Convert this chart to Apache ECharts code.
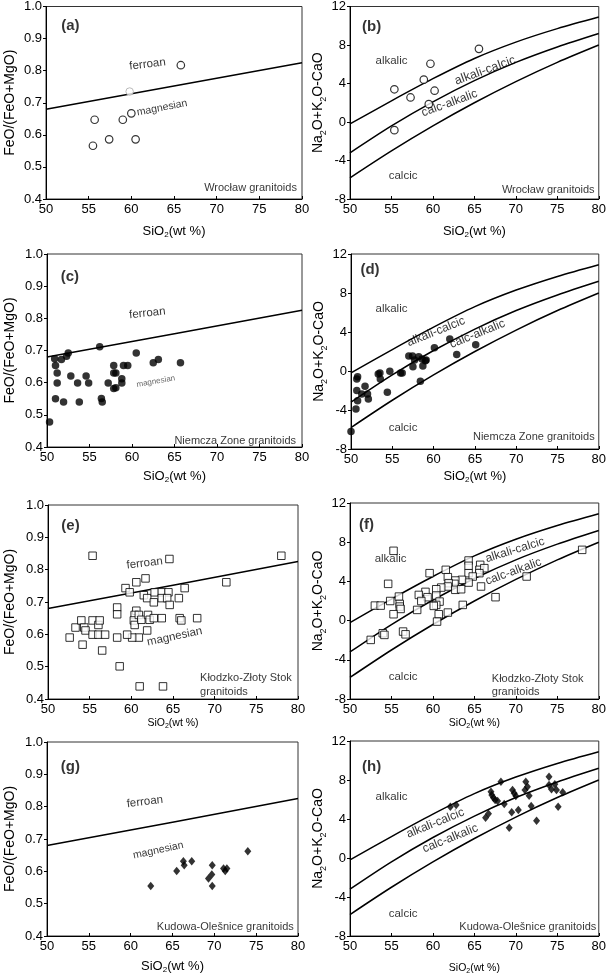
<!DOCTYPE html>
<html><head><meta charset="utf-8">
<script src="https://cdn.jsdelivr.net/npm/echarts@6/dist/echarts.min.js"></script>
<style>html,body{margin:0;padding:0;background:#fff}#c{width:609px;height:977px}</style>
</head><body><div id="c"></div>
<script>
const FONT = '"Liberation Sans", Arial, Helvetica, sans-serif';

// ---- boundary lines ----
const feBoundarySiO2 = [50, 65, 80];
const feBoundaryRatio = [0.68, 0.752, 0.825];
const maliSiO2 = [50, 55, 60, 65, 70, 75, 80];
const maliAlkalicBoundary = [-0.2, 2.2, 4.5, 6.6, 8.3, 9.7, 10.9];
const maliAlkaliCalcicBoundary = [-3.2, -0.4, 2.1, 4.3, 6.2, 7.8, 9.2];
const maliCalcAlkalicBoundary = [-5.8, -3.0, -0.4, 2.0, 4.2, 6.2, 8.0];

// ---- tick values ----
const siO2Ticks = [50, 55, 60, 65, 70, 75, 80];
const feTicks = [0.4, 0.5, 0.6, 0.7, 0.8, 0.9, 1.0];
const maliTicks = [-8, -4, 0, 4, 8, 12];

// ---- Wrocław granitoids ----
const wroclawFe = [[65.8,0.817],[60.0,0.667],[59.0,0.647],[55.7,0.647],[57.4,0.586],[60.5,0.586],[55.5,0.566]];
const wroclawFeGrey = [[59.8,0.735]];
const wroclawMali = [[65.55,7.6],[59.7,6.05],[58.9,4.4],[55.35,3.4],[57.3,2.55],[60.2,3.25],[59.5,1.85],[55.35,-0.85]];

// ---- Niemcza Zone granitoids ----
const niemczaFe = [[50.3,0.478],[50.9,0.674],[51.0,0.653],[51.2,0.630],[51.2,0.599],[51.0,0.550],[51.7,0.672],[51.95,0.540],[52.3,0.682],[52.5,0.692],[52.8,0.621],[53.6,0.599],[53.8,0.540],[54.6,0.621],[54.9,0.599],[56.2,0.712],[56.4,0.551],[56.5,0.540],[57.2,0.599],[57.85,0.653],[57.85,0.630],[58.1,0.630],[57.85,0.582],[58.1,0.584],[58.8,0.612],[58.8,0.599],[59.0,0.653],[59.5,0.653],[60.5,0.692],[62.5,0.662],[63.1,0.672],[65.7,0.662]];
const niemczaMali = [[50.0,-6.2],[50.6,-3.9],[50.7,-2.0],[50.7,-0.82],[50.8,-0.58],[50.8,-3.04],[51.3,-2.36],[51.7,-1.57],[52.0,-2.36],[52.1,-2.87],[53.55,-0.82],[53.3,-0.31],[53.5,-0.2],[54.4,-2.19],[54.7,-0.03],[56.0,-0.2],[56.2,-0.2],[57.0,1.54],[57.45,1.54],[57.5,0.44],[57.7,1.13],[58.2,1.47],[58.4,-1.06],[58.6,1.23],[59.0,1.06],[58.7,0.51],[59.1,1.13],[60.1,2.39],[61.96,3.28],[62.8,1.68],[65.1,2.7]];

// ---- Kłodzko-Złoty Stok granitoids ----
const klodzkoFe = [[55.35,0.843],[64.57,0.833],[78.0,0.843],[60.6,0.761],[61.7,0.773],[59.3,0.743],[59.8,0.730],[61.5,0.721],[61.9,0.712],[62.8,0.730],[63.65,0.730],[64.45,0.730],[63.65,0.712],[64.3,0.712],[65.7,0.712],[66.4,0.743],[62.7,0.699],[64.6,0.691],[71.4,0.761],[58.3,0.683],[58.3,0.662],[60.6,0.673],[60.4,0.660],[60.3,0.643],[60.4,0.629],[60.9,0.660],[61.2,0.645],[62.0,0.660],[62.2,0.645],[62.7,0.650],[63.65,0.650],[65.8,0.650],[66.0,0.643],[67.9,0.650],[61.9,0.612],[60.9,0.590],[60.1,0.590],[59.5,0.599],[58.3,0.590],[58.6,0.501],[61.0,0.439],[63.8,0.439],[52.6,0.590],[53.3,0.621],[54.0,0.643],[54.35,0.621],[54.5,0.612],[54.15,0.568],[55.35,0.643],[55.35,0.599],[56.05,0.629],[56.2,0.643],[56.05,0.599],[56.85,0.599],[56.5,0.550]];
const klodzkoMali = [[55.25,7.12],[54.6,3.75],[78.0,7.22],[71.3,4.5],[67.55,2.39],[59.6,4.84],[61.55,5.18],[64.3,6.13],[64.3,5.59],[65.7,5.69],[65.6,5.18],[66.2,5.35],[64.3,4.84],[65.6,4.84],[64.8,4.5],[65.8,3.48],[64.3,3.88],[63.5,4.16],[62.7,4.09],[62.6,3.75],[61.8,4.43],[61.9,3.82],[61.8,3.48],[62.7,3.14],[63.4,3.2],[61.0,3.37],[60.4,3.2],[59.1,2.93],[58.3,2.62],[59.35,2.39],[58.6,2.0],[60.4,2.56],[60.8,1.94],[60.4,1.6],[60.1,1.5],[58.1,1.09],[60.7,0.65],[61.8,0.82],[63.6,1.6],[60.5,-0.1],[53.0,1.53],[53.7,1.53],[54.85,2.0],[55.9,2.45],[56.0,1.7],[56.0,1.43],[56.1,1.19],[55.25,0.65],[52.5,-1.97],[53.95,-1.29],[54.15,-1.46],[56.4,-1.12],[56.7,-1.4]];

// ---- Kudowa-Olešnice granitoids ----
const kudowaFe = [[62.4,0.555],[65.5,0.601],[66.3,0.631],[66.4,0.619],[67.3,0.631],[69.75,0.619],[69.3,0.578],[69.7,0.590],[69.75,0.555],[71.1,0.609],[71.3,0.601],[71.5,0.609],[74.0,0.662]];
const kudowaMali = [[62.1,5.26],[62.8,5.44],[66.35,4.14],[66.7,4.55],[67.0,6.8],[67.1,6.46],[67.3,6.19],[67.5,5.95],[67.8,5.85],[68.2,7.83],[68.6,5.54],[69.2,3.11],[69.6,6.97],[69.8,6.63],[70.0,6.36],[69.5,4.68],[70.3,4.92],[71.2,7.83],[71.1,6.97],[71.4,7.32],[71.6,6.39],[71.85,5.33],[72.5,3.83],[74.0,8.34],[74.0,7.49],[74.3,7.04],[74.7,7.56],[74.9,6.97],[75.1,5.26],[75.65,6.74]];

// ---- panel layout & styles ----
const panels = [
  {type:'fe',   box:[45,5,257,194],   pts:wroclawFe,   marker:'open-circle', xGap:24, xFont:13, yGap:27},
  {type:'mali', box:[350,3,254,196],  pts:wroclawMali, marker:'open-circle', xGap:24, xFont:13, yGap:22},
  {type:'fe',   box:[46,254,256,193], pts:niemczaFe,   marker:'filled-circle', xGap:21, xFont:13, yGap:28},
  {type:'mali', box:[351,254,253,195],pts:niemczaMali, marker:'filled-circle', xGap:19, xFont:13, yGap:22},
  {type:'fe',   box:[46,505,252,194], pts:klodzkoFe,   marker:'open-square', xGap:13, xFont:10.5, yGap:29},
  {type:'mali', box:[350,503,253,196],pts:klodzkoMali, marker:'open-square', xGap:13, xFont:10.5, yGap:22},
  {type:'fe',   box:[46,742,252,194], pts:kudowaFe,    marker:'diamond', xGap:22, xFont:13, yGap:28},
  {type:'mali', box:[350,741,253,195],pts:kudowaMali,  marker:'diamond', xGap:26, xFont:10.5, yGap:22}
];

// text placements in data coordinates: [x, y, text, rotate, fontSize, align, bold, color]
const panelText = [
  [[52.85,0.94,'(a)',0,15,'center',true],[61.9,0.82,'ferroan',7,11.5],[63.6,0.684,'magnesian',11,10.5],[79.4,0.434,'Wrocław granitoids',0,11,'right']],
  [[52.6,9.9,'(b)',0,15,'center',true],[55,6.4,'alkalic',0,11.5],[66.3,5.35,'alkali-calcic',20,12.5],[62.0,1.95,'calc-alkalic',20,12],[56.4,-5.6,'calcic',0,11.5],[79.5,-7.05,'Wrocław granitoids',0,11,'right']],
  [[52.7,0.93,'(c)',0,15,'center',true],[61.8,0.816,'ferroan',6,11.5],[62.8,0.604,'magnesian',10,8,'center',false,'#444'],[79.3,0.418,'Niemcza Zone granitoids',0,11,'right']],
  [[52.3,10.4,'(d)',0,15,'center',true],[54.9,6.36,'alkalic',0,11.5],[60.3,4.03,'alkali-calcic',22,12],[65.3,3.8,'calc-alkalic',22,12],[56.3,-5.78,'calcic',0,11.5],[79.5,-6.8,'Niemcza Zone granitoids',0,11,'right']],
  [[52.7,0.935,'(e)',0,15,'center',true],[61.6,0.82,'ferroan',7,11.5],[65.2,0.593,'magnesian',12,11.5],[68.25,0.465,'Kłodzko-Złoty Stok',0,11,'left'],[68.25,0.422,'granitoids',0,11,'left']],
  [[52.0,9.78,'(f)',0,15,'center',true],[54.9,6.27,'alkalic',0,11.5],[69.9,7.2,'alkali-calcic',17,12],[69.7,5.0,'calc-alkalic',20,12],[56.4,-5.72,'calcic',0,11.5],[67.1,-5.96,'Kłodzko-Złoty Stok',0,11,'left'],[67.1,-7.26,'granitoids',0,11,'left']],
  [[52.8,0.923,'(g)',0,15,'center',true],[61.7,0.815,'ferroan',7,11.5],[63.3,0.665,'magnesian',12,10.5],[79.5,0.429,'Kudowa-Olešnice granitoids',0,11,'right']],
  [[52.6,9.37,'(h)',0,15,'center',true],[55.0,6.3,'alkalic',0,11.5],[60.3,3.56,'alkali-calcic',22,12],[62.1,2.0,'calc-alkalic',22,12],[56.4,-5.74,'calcic',0,11.5],[79.7,-7.04,'Kudowa-Olešnice granitoids',0,11,'right']]
];

const markerStyles = {
  'open-circle':  {symbol:'circle',  size:7.5, itemStyle:{color:'#fff', borderColor:'#000', borderWidth:1.2}},
  'filled-circle':{symbol:'circle',  size:7.5, itemStyle:{color:'#000', borderColor:'#000', borderWidth:0}},
  'open-square':  {symbol:'rect',    size:7.5, itemStyle:{color:'#fff', borderColor:'#000', borderWidth:1}},
  'diamond':      {symbol:'diamond', size:[7,8.5], itemStyle:{color:'#000', borderColor:'#000', borderWidth:0}}
};

const grids = [], xAxes = [], yAxes = [], series = [];
const subRich = (fs) => ({sub:{fontSize:Math.round(fs*0.62), lineHeight:Math.round(fs*0.8), verticalAlign:'bottom', fontFamily:FONT, color:'#000'}});

panels.forEach((p, i) => {
  const [l, t, w, h] = p.box;
  grids.push({left:l, top:t, width:w, height:h, show:true, borderColor:'#333', borderWidth:1, backgroundColor:'transparent'});
  xAxes.push({
    type:'value', gridIndex:i, min:siO2Ticks[0], max:siO2Ticks[siO2Ticks.length-1], interval:siO2Ticks[1]-siO2Ticks[0],
    axisLine:{onZero:false, lineStyle:{color:'#000', width:1}},
    axisTick:{inside:true, length:3, lineStyle:{color:'#000'}},
    axisLabel:{color:'#000', fontSize:13, margin:4, fontFamily:FONT},
    splitLine:{show:false},
    name:'SiO{sub|2}(wt %)', nameLocation:'middle', nameGap:p.xGap,
    nameTextStyle:{color:'#000', fontSize:p.xFont, fontFamily:FONT, lineHeight:Math.round(p.xFont*1.25), rich:subRich(p.xFont)}
  });
  const fe = p.type === 'fe';
  const ticks = fe ? feTicks : maliTicks;
  yAxes.push({
    type:'value', gridIndex:i, min:ticks[0], max:ticks[ticks.length-1], interval: fe ? 0.1 : 4,
    axisLine:{onZero:false, lineStyle:{color:'#000', width:1}},
    axisTick:{inside:false, length:3, lineStyle:{color:'#000'}},
    axisLabel:{color:'#000', fontSize:13, margin:4, fontFamily:FONT, formatter: v => fe ? v.toFixed(1) : String(Math.round(v))},
    splitLine:{show:false},
    name: fe ? 'FeO/(FeO+MgO)' : 'Na{sub|2}O+K{sub|2}O-CaO', nameLocation:'middle', nameGap:p.yGap,
    nameTextStyle:{color:'#000', fontSize:14, fontFamily:FONT, lineHeight:18, rich:subRich(14)}
  });
  const lineStyle = {color:'#000', width:1.5};
  if (fe) {
    series.push({type:'line', xAxisIndex:i, yAxisIndex:i, symbol:'none', silent:true, lineStyle,
      data: feBoundarySiO2.map((x, k) => [x, feBoundaryRatio[k]])});
  } else {
    [maliAlkalicBoundary, maliAlkaliCalcicBoundary, maliCalcAlkalicBoundary].forEach(arr => {
      series.push({type:'line', xAxisIndex:i, yAxisIndex:i, symbol:'none', silent:true, smooth:0.3, lineStyle,
        data: maliSiO2.map((x, k) => [x, arr[k]])});
    });
  }
  const m = markerStyles[p.marker];
  series.push({type:'scatter', xAxisIndex:i, yAxisIndex:i, symbol:m.symbol, symbolSize:m.size, itemStyle:m.itemStyle, data:p.pts, z:3});
  if (i === 0) {
    series.push({type:'scatter', xAxisIndex:i, yAxisIndex:i, symbol:'circle', symbolSize:7.5,
      itemStyle:{color:'#fff', borderColor:'#aaa', borderWidth:1}, data:wroclawFeGrey, z:3});
  }
  series.push({type:'scatter', xAxisIndex:i, yAxisIndex:i, symbol:'circle', symbolSize:0, silent:true, z:5,
    itemStyle:{color:'transparent'},
    data: panelText[i].map(a => ({value:[a[0], a[1]], label:{
      show:true, position:'inside', formatter:a[2], rotate:a[3]||0, fontSize:a[4]||12,
      align:a[5]||'center', verticalAlign:'middle', fontWeight:a[6]?'bold':'normal',
      color:a[7]||'#000', fontFamily:FONT}}))
  });
});

const chart = echarts.init(document.getElementById('c'), null, {renderer:'canvas'});
chart.setOption({animation:false, backgroundColor:'#fff', grid:grids, xAxis:xAxes, yAxis:yAxes, series});
</script></body></html>
